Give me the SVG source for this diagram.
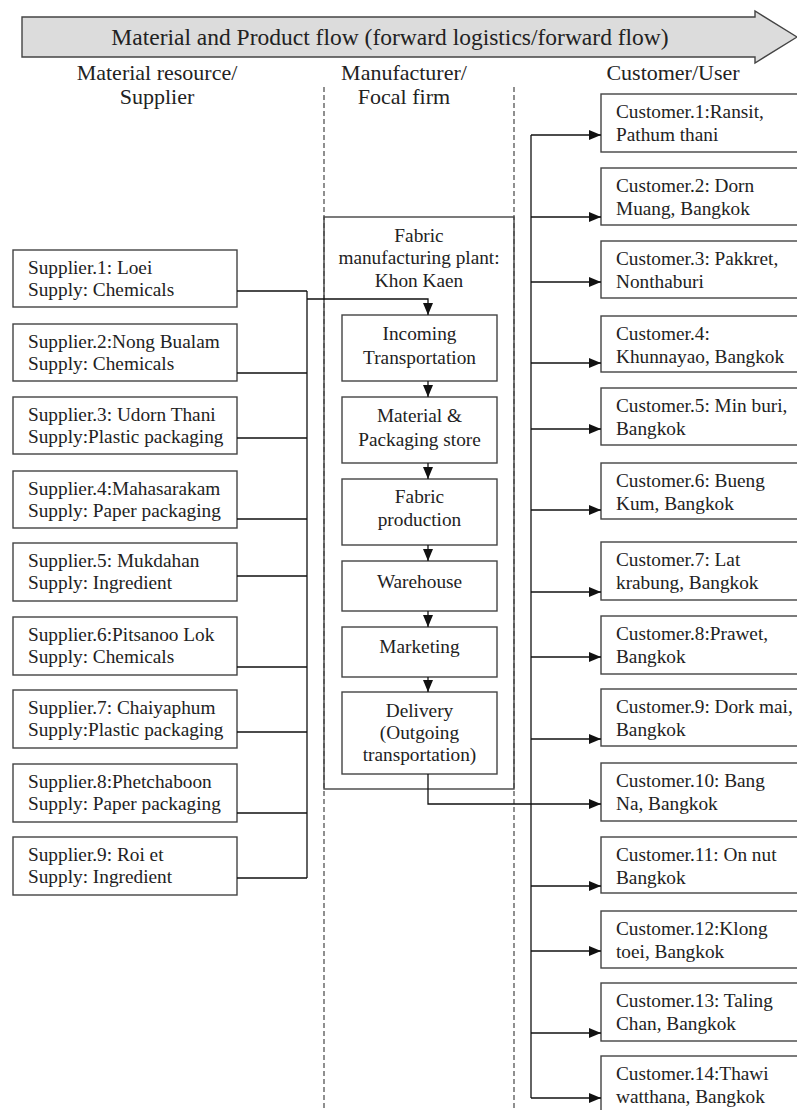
<svg xmlns="http://www.w3.org/2000/svg" width="797" height="1110" viewBox="0 0 797 1110">
<style>
  text { font-family: "Liberation Serif", "DejaVu Serif", "Times New Roman", serif; fill: #222; }
  .hd { font-size: 22px; text-anchor: middle; }
  .bx { font-size: 19.3px; }
  .ct { font-size: 19.3px; text-anchor: middle; }
  .box { fill: #fff; stroke: #444; stroke-width: 1.4; }
  .dash { stroke: #555; stroke-width: 1.3; stroke-dasharray: 5 3; fill: none; }
  .con { stroke: #111; stroke-width: 1.3; fill: none; }
</style>
<defs>
  <marker id="ah" markerUnits="userSpaceOnUse" markerWidth="12" markerHeight="10" refX="12" refY="5" orient="auto">
    <path d="M0,0 L12,5 L0,10 z" fill="#111"/>
  </marker>
</defs>
<rect width="797" height="1110" fill="#fff"/>

<g id="flow-arrow">
  <polygon points="22,17 755,17 755,11 797,37 755,63 755,57 22,57" fill="#dcdcdc" stroke="#444" stroke-width="1.4"/>
  <text x="390" y="45" font-size="23.5" text-anchor="middle">Material and Product flow (forward logistics/forward flow)</text>
</g>

<g id="headings">
  <text class="hd" x="157" y="80">Material resource/</text>
  <text class="hd" x="157" y="104">Supplier</text>
  <text class="hd" x="404" y="80">Manufacturer/</text>
  <text class="hd" x="404" y="104">Focal firm</text>
  <text class="hd" x="673" y="80" font-size="22.5">Customer/User</text>
</g>

<g id="dividers">
  <line class="dash" x1="324" y1="87" x2="324" y2="1110"/>
  <line class="dash" x1="514" y1="87" x2="514" y2="1110"/>
</g>

<g id="plant">
  <rect x="324" y="217" width="190" height="572" fill="none" stroke="#444" stroke-width="1.4"/>
  <text class="ct" x="419" y="242">Fabric</text>
  <text class="ct" x="419" y="264">manufacturing plant:</text>
  <text class="ct" x="419" y="287">Khon Kaen</text>
</g>

<g id="incoming"><rect class="box" x="342" y="315" width="155" height="66"/>
  <text class="ct" x="419.5" y="340">Incoming</text><text class="ct" x="419.5" y="364">Transportation</text></g>
<g id="store"><rect class="box" x="342" y="397" width="155" height="66"/>
  <text class="ct" x="419.5" y="422">Material &amp;</text><text class="ct" x="419.5" y="446">Packaging store</text></g>
<g id="production"><rect class="box" x="342" y="479" width="155" height="66"/>
  <text class="ct" x="419.5" y="503">Fabric</text><text class="ct" x="419.5" y="526">production</text></g>
<g id="warehouse"><rect class="box" x="342" y="561" width="155" height="50"/>
  <text class="ct" x="419.5" y="588">Warehouse</text></g>
<g id="marketing"><rect class="box" x="342" y="627" width="155" height="50"/>
  <text class="ct" x="419.5" y="653">Marketing</text></g>
<g id="delivery"><rect class="box" x="342" y="692" width="155" height="82"/>
  <text class="ct" x="419.5" y="717">Delivery</text><text class="ct" x="419.5" y="739">(Outgoing</text><text class="ct" x="419.5" y="761">transportation)</text></g>

<g id="supplier1"><rect class="box" x="13" y="250" width="224" height="57"/><text class="bx" x="28" y="274">Supplier.1: Loei</text><text class="bx" x="28" y="296">Supply: Chemicals</text></g>
<g id="supplier2"><rect class="box" x="13" y="324" width="224" height="57"/><text class="bx" x="28" y="348">Supplier.2:Nong Bualam</text><text class="bx" x="28" y="370">Supply: Chemicals</text></g>
<g id="supplier3"><rect class="box" x="13" y="397" width="224" height="57"/><text class="bx" x="28" y="421">Supplier.3: Udorn Thani</text><text class="bx" x="28" y="443">Supply:Plastic packaging</text></g>
<g id="supplier4"><rect class="box" x="13" y="471" width="224" height="57"/><text class="bx" x="28" y="495">Supplier.4:Mahasarakam</text><text class="bx" x="28" y="517">Supply: Paper packaging</text></g>
<g id="supplier5"><rect class="box" x="13" y="543" width="224" height="58"/><text class="bx" x="28" y="567">Supplier.5: Mukdahan</text><text class="bx" x="28" y="589">Supply: Ingredient</text></g>
<g id="supplier6"><rect class="box" x="13" y="617" width="224" height="58"/><text class="bx" x="28" y="641">Supplier.6:Pitsanoo Lok</text><text class="bx" x="28" y="663">Supply: Chemicals</text></g>
<g id="supplier7"><rect class="box" x="13" y="690" width="224" height="58"/><text class="bx" x="28" y="714">Supplier.7: Chaiyaphum</text><text class="bx" x="28" y="736">Supply:Plastic packaging</text></g>
<g id="supplier8"><rect class="box" x="13" y="764" width="224" height="58"/><text class="bx" x="28" y="788">Supplier.8:Phetchaboon</text><text class="bx" x="28" y="810">Supply: Paper packaging</text></g>
<g id="supplier9"><rect class="box" x="13" y="837" width="224" height="58"/><text class="bx" x="28" y="861">Supplier.9: Roi et</text><text class="bx" x="28" y="883">Supply: Ingredient</text></g>

<g id="customer1"><rect class="box" x="601" y="94" width="210" height="58"/><text class="bx" x="616" y="118">Customer.1:Ransit,</text><text class="bx" x="616" y="141">Pathum thani</text></g>
<g id="customer2"><rect class="box" x="601" y="168" width="210" height="57"/><text class="bx" x="616" y="192">Customer.2: Dorn</text><text class="bx" x="616" y="215">Muang, Bangkok</text></g>
<g id="customer3"><rect class="box" x="601" y="241" width="210" height="57"/><text class="bx" x="616" y="265">Customer.3: Pakkret,</text><text class="bx" x="616" y="288">Nonthaburi</text></g>
<g id="customer4"><rect class="box" x="601" y="316" width="210" height="56"/><text class="bx" x="616" y="340">Customer.4:</text><text class="bx" x="616" y="363">Khunnayao, Bangkok</text></g>
<g id="customer5"><rect class="box" x="601" y="388" width="210" height="57"/><text class="bx" x="616" y="412">Customer.5: Min buri,</text><text class="bx" x="616" y="435">Bangkok</text></g>
<g id="customer6"><rect class="box" x="601" y="463" width="210" height="56"/><text class="bx" x="616" y="487">Customer.6: Bueng</text><text class="bx" x="616" y="510">Kum, Bangkok</text></g>
<g id="customer7"><rect class="box" x="601" y="542" width="210" height="58"/><text class="bx" x="616" y="566">Customer.7: Lat</text><text class="bx" x="616" y="589">krabung, Bangkok</text></g>
<g id="customer8"><rect class="box" x="601" y="616" width="210" height="58"/><text class="bx" x="616" y="640">Customer.8:Prawet,</text><text class="bx" x="616" y="663">Bangkok</text></g>
<g id="customer9"><rect class="box" x="601" y="689" width="210" height="57"/><text class="bx" x="616" y="713">Customer.9: Dork mai,</text><text class="bx" x="616" y="736">Bangkok</text></g>
<g id="customer10"><rect class="box" x="601" y="763" width="210" height="58"/><text class="bx" x="616" y="787">Customer.10: Bang</text><text class="bx" x="616" y="810">Na, Bangkok</text></g>
<g id="customer11"><rect class="box" x="601" y="837" width="210" height="56"/><text class="bx" x="616" y="861">Customer.11: On nut</text><text class="bx" x="616" y="884">Bangkok</text></g>
<g id="customer12"><rect class="box" x="601" y="911" width="210" height="57"/><text class="bx" x="616" y="935">Customer.12:Klong</text><text class="bx" x="616" y="958">toei, Bangkok</text></g>
<g id="customer13"><rect class="box" x="601" y="983" width="210" height="58"/><text class="bx" x="616" y="1007">Customer.13: Taling</text><text class="bx" x="616" y="1030">Chan, Bangkok</text></g>
<g id="customer14"><rect class="box" x="601" y="1056" width="210" height="60"/><text class="bx" x="616" y="1080">Customer.14:Thawi</text><text class="bx" x="616" y="1103">watthana, Bangkok</text></g>

<g id="connectors">
  <path class="con" d="M237,291 H307 M237,373 H307 M237,438 H307 M237,519 H307 M237,576 H307 M237,667 H307 M237,732 H307 M237,813 H307 M237,878 H307 M307,291 V878"/>
  <path class="con" d="M307,299 H428 V315" marker-end="url(#ah)"/>
  <line class="con" x1="428" y1="381" x2="428" y2="397" marker-end="url(#ah)"/>
  <line class="con" x1="428" y1="463" x2="428" y2="479" marker-end="url(#ah)"/>
  <line class="con" x1="428" y1="545" x2="428" y2="561" marker-end="url(#ah)"/>
  <line class="con" x1="428" y1="611" x2="428" y2="627" marker-end="url(#ah)"/>
  <line class="con" x1="428" y1="677" x2="428" y2="692" marker-end="url(#ah)"/>
  <path class="con" d="M428,774 V804 H601" marker-end="url(#ah)"/>
  <line class="con" x1="531" y1="135" x2="531" y2="1098"/>
  <line class="con" x1="531" y1="135" x2="601" y2="135" marker-end="url(#ah)"/>
  <line class="con" x1="531" y1="217" x2="601" y2="217" marker-end="url(#ah)"/>
  <line class="con" x1="531" y1="282" x2="601" y2="282" marker-end="url(#ah)"/>
  <line class="con" x1="531" y1="363" x2="601" y2="363" marker-end="url(#ah)"/>
  <line class="con" x1="531" y1="429" x2="601" y2="429" marker-end="url(#ah)"/>
  <line class="con" x1="531" y1="510" x2="601" y2="510" marker-end="url(#ah)"/>
  <line class="con" x1="531" y1="592" x2="601" y2="592" marker-end="url(#ah)"/>
  <line class="con" x1="531" y1="657" x2="601" y2="657" marker-end="url(#ah)"/>
  <line class="con" x1="531" y1="739" x2="601" y2="739" marker-end="url(#ah)"/>
  <line class="con" x1="531" y1="886" x2="601" y2="886" marker-end="url(#ah)"/>
  <line class="con" x1="531" y1="951" x2="601" y2="951" marker-end="url(#ah)"/>
  <line class="con" x1="531" y1="1033" x2="601" y2="1033" marker-end="url(#ah)"/>
  <line class="con" x1="531" y1="1098" x2="601" y2="1098" marker-end="url(#ah)"/>
</g>
</svg>
